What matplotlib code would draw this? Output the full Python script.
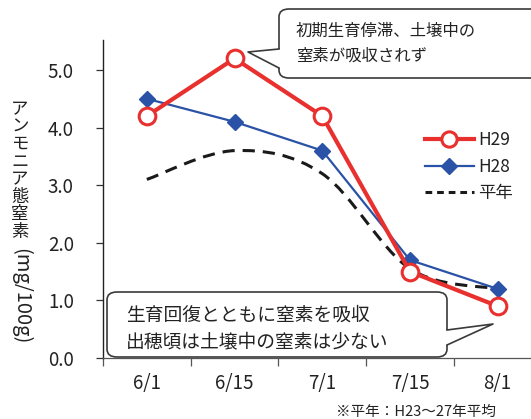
import numpy as np
import matplotlib
matplotlib.use('Agg')
import matplotlib.pyplot as plt
from matplotlib.path import Path
from matplotlib.patches import PathPatch, FancyBboxPatch, Polygon
from matplotlib.lines import Line2D

plt.rcParams['font.family'] = ['Noto Sans CJK JP', 'DejaVu Sans']

# ammonium nitrogen in soil (mg/100g)
dates = ['6/1', '6/15', '7/1', '7/15', '8/1']
h29 = [4.2, 5.2, 4.2, 1.5, 0.9]
h28 = [4.5, 4.1, 3.6, 1.7, 1.2]
normal = [3.1, 3.6, 3.2, 1.55, 1.2]
yticks = [0.0, 1.0, 2.0, 3.0, 4.0, 5.0]

W, H = 531, 419
RED = '#e8302e'
BLUE = '#2a52a6'
EDGE = '#3a3a3a'
TXT = '#222222'


def px(x, y):
    # pixel position (from top-left) -> figure fraction
    return x / W, 1 - y / H


def smooth_path(xs, ys):
    # bezier segments like a spreadsheet "smoothed line"
    pts = np.column_stack([xs, ys]).astype(float)
    ext = np.vstack([pts[0], pts, pts[-1]])
    verts = [pts[0]]
    codes = [Path.MOVETO]
    for i in range(len(pts) - 1):
        p0, p1, p2, p3 = ext[i], ext[i + 1], ext[i + 2], ext[i + 3]
        verts += [p1 + (p2 - p0) / 6, p2 - (p3 - p1) / 6, p2]
        codes += [Path.CURVE4] * 3
    return Path(verts, codes)


def callout(fig, box, tip, base, inward):
    x0, y0, x1, y1 = box
    fx0, fy1 = px(x0, y1)
    fx1, fy0 = px(x1, y0)
    r = 10 / W
    fig.patches.append(FancyBboxPatch((fx0 + r, fy1 + r), fx1 - fx0 - 2 * r, fy0 - fy1 - 2 * r,
                                      boxstyle='round,pad=%f' % r, transform=fig.transFigure,
                                      facecolor='white', edgecolor=EDGE, linewidth=1.2, zorder=5))
    b1, b2 = base
    # white wedge reaching a little inside the box hides the edge under the pointer
    cover = [px(b1[0] + inward, b1[1]), px(*b1), px(*tip), px(*b2), px(b2[0] + inward, b2[1])]
    fig.patches.append(Polygon(cover, closed=True, transform=fig.transFigure,
                               facecolor='white', edgecolor='none', zorder=6))
    outline = [px(*b1), px(*tip), px(*b2)]
    fig.lines.append(Line2D([p[0] for p in outline], [p[1] for p in outline],
                            transform=fig.transFigure, color=EDGE, linewidth=1.2, zorder=7))


fig = plt.figure(figsize=(W / 100, H / 100), dpi=100)
ax = fig.add_axes([103 / W, (H - 358) / H, 438.5 / W, 318 / H])

x = np.arange(len(dates))
ax.add_patch(PathPatch(smooth_path(x, normal), fill=False, edgecolor='#1a1a1a',
                       linewidth=2.2, linestyle=(0, (4, 2.6)), zorder=2))
ax.plot(x, h28, color=BLUE, linewidth=1.6, marker='D', markersize=8.5,
        markerfacecolor=BLUE, markeredgecolor=BLUE, zorder=3)
ax.plot(x, h29, color=RED, linewidth=3, marker='o', markersize=12,
        markerfacecolor='white', markeredgecolor=RED, markeredgewidth=2.2, zorder=4)

ax.set_xlim(-0.5, len(dates) - 0.5)
ax.set_ylim(0, 5.52)
ax.set_yticks(yticks)
ax.set_yticklabels(['%.1f' % v for v in yticks])
ax.set_xticks(x)
ax.set_xticklabels(dates)
ax.set_xticks(np.arange(len(dates)) - 0.5, minor=True)
ax.tick_params(axis='x', which='major', length=0, pad=11, labelsize=13.5, labelcolor=TXT)
ax.tick_params(axis='x', which='minor', length=6, width=0.9, color='#555555')
ax.tick_params(axis='y', length=5, width=0.9, pad=16, labelsize=13.5, labelcolor=TXT,
               color='#333333')
for s in ['top', 'right']:
    ax.spines[s].set_visible(False)
ax.spines['left'].set_color('#222222')
ax.spines['bottom'].set_color('#555555')
ax.spines['left'].set_linewidth(1.0)
ax.spines['bottom'].set_linewidth(0.9)

handles = [
    Line2D([], [], color=RED, linewidth=3, marker='o', markersize=11,
           markerfacecolor='white', markeredgecolor=RED, markeredgewidth=2.2),
    Line2D([], [], color=BLUE, linewidth=1.6, marker='D', markersize=8.5),
    Line2D([], [], color='#1a1a1a', linewidth=2.2, linestyle=(0, (2.2, 1.6))),
]
leg = fig.legend(handles, ['H29', 'H28', '平年'], loc='upper left',
                 bbox_to_anchor=px(418, 124), frameon=False, fontsize=12.5,
                 handlelength=2.8, handletextpad=0.25, labelspacing=0.5,
                 borderaxespad=0)
for t in leg.get_texts():
    t.set_color(TXT)

# vertical axis title: kana upright, unit turned
chars = 'アンモニア態窒素'
for i, c in enumerate(chars):
    fig.text(*px(20, 109 + 17.5 * i), c, ha='center', va='center', fontsize=12.5, color=TXT)
fig.text(*px(21, 296), '(mg/100g)', ha='center', va='center', rotation=-90,
         fontsize=14.5, color=TXT)

callout(fig, (279, 9, 545, 78), (248, 52), ((279, 49), (279, 68)), 4)
fig.text(*px(296, 31), '初期生育停滞、土壌中の', ha='left', va='center',
         fontsize=11.8, color=TXT, zorder=8)
fig.text(*px(296, 56), '窒素が吸収されず', ha='left', va='center',
         fontsize=11.8, color=TXT, zorder=8)

callout(fig, (107, 292, 447, 357), (493, 324), ((447, 330), (447, 345)), -4)
fig.text(*px(126, 315), '生育回復とともに窒素を吸収', ha='left', va='center',
         fontsize=13.5, color=TXT, zorder=8)
fig.text(*px(126, 342), '出穂頃は土壌中の窒素は少ない', ha='left', va='center',
         fontsize=13.5, color=TXT, zorder=8)

fig.text(*px(496, 412), '※平年：H23～27年平均', ha='right', va='center',
         fontsize=10.5, color=TXT)

fig.savefig('out.png', dpi=100)
